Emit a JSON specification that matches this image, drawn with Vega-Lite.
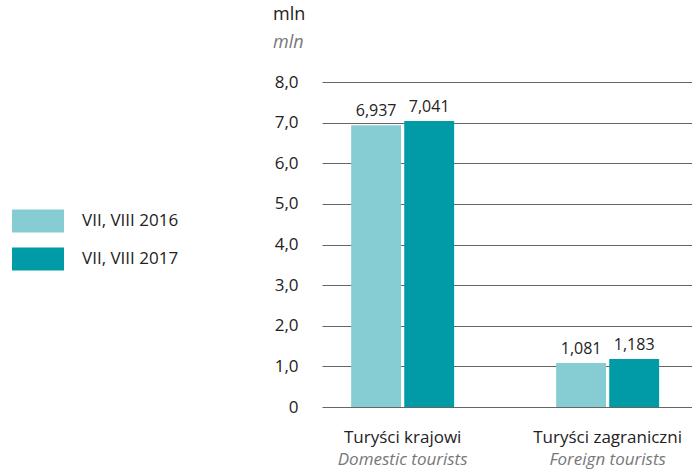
{
  "$schema": "https://vega.github.io/schema/vega-lite/v6.json",
  "width": 370,
  "height": 325,
  "autosize": {"type": "none"},
  "padding": {"left": 322, "top": 82, "right": 0, "bottom": 63},
  "config": {
    "locale": {"number": {"decimal": ",", "thousands": "\u00a0", "grouping": [3], "currency": ["", ""]}},
    "font": "Open Sans",
    "view": {"stroke": null}
  },
  "title": {
    "text": "mln",
    "subtitle": "mln",
    "anchor": "start",
    "frame": "group",
    "dx": -49,
    "offset": 21,
    "fontSize": 18,
    "fontWeight": "normal",
    "color": "#222222",
    "subtitleFontSize": 18,
    "subtitleFontStyle": "italic",
    "subtitleColor": "#777777",
    "subtitlePadding": 10
  },
  "data": {
    "values": [
      {"cat": "Turyści krajowi", "year": "VII, VIII 2016", "value": 6.937},
      {"cat": "Turyści krajowi", "year": "VII, VIII 2017", "value": 7.041},
      {"cat": "Turyści zagraniczni", "year": "VII, VIII 2016", "value": 1.081},
      {"cat": "Turyści zagraniczni", "year": "VII, VIII 2017", "value": 1.183}
    ]
  },
  "encoding": {
    "x": {
      "field": "cat",
      "type": "nominal",
      "sort": ["Turyści krajowi", "Turyści zagraniczni"],
      "scale": {"paddingInner": 0.4976, "paddingOuter": 0.1513, "align": 0.47},
      "axis": {
        "title": null,
        "domain": false,
        "ticks": false,
        "labelAngle": 0,
        "labelFontSize": 17,
        "labelColor": "#222222",
        "labelBaseline": "alphabetic",
        "labelPadding": 35
      }
    }
  },
  "layer": [
    {
      "mark": {"type": "bar"},
      "encoding": {
        "xOffset": {"field": "year", "type": "nominal", "scale": {"paddingInner": 0.06}},
        "y": {
          "field": "value",
          "type": "quantitative",
          "scale": {"domain": [0, 8], "nice": false},
          "axis": {
            "title": null,
            "values": [0, 1, 2, 3, 4, 5, 6, 7, 8],
            "format": ".1f",
            "labelExpr": "datum.value === 0 ? '0' : datum.label",
            "domain": false,
            "ticks": false,
            "gridColor": "#666666",
            "gridWidth": 1,
            "labelFontSize": 17,
            "labelColor": "#222222",
            "labelPadding": 24
          }
        },
        "color": {
          "field": "year",
          "type": "nominal",
          "scale": {"domain": ["VII, VIII 2016", "VII, VIII 2017"], "range": ["#86CDD3", "#009BA6"]},
          "legend": {
            "title": null,
            "orient": "none",
            "legendX": -310,
            "legendY": 113,
            "symbolType": "M-1,-0.442H1V0.442H-1Z",
            "symbolSize": 2704,
            "symbolStrokeWidth": 0,
            "symbolOpacity": 1,
            "labelFontSize": 17,
            "labelColor": "#222222",
            "labelOffset": 18,
            "rowPadding": -5
          }
        }
      }
    },
    {
      "mark": {"type": "text", "baseline": "alphabetic", "dy": -9, "fontSize": 16, "color": "#222222"},
      "encoding": {
        "xOffset": {"field": "year", "type": "nominal", "scale": {"paddingInner": 0.06}},
        "y": {"field": "value", "type": "quantitative"},
        "text": {"field": "value", "type": "quantitative", "format": ".3f"}
      }
    },
    {
      "mark": {"type": "rule", "color": "#222222", "strokeWidth": 1.5},
      "encoding": {"y": {"datum": 0}}
    },
    {
      "data": {
        "values": [
          {"cat": "Turyści krajowi", "en": "Domestic tourists"},
          {"cat": "Turyści zagraniczni", "en": "Foreign tourists"}
        ]
      },
      "mark": {"type": "text", "baseline": "alphabetic", "dy": 58, "fontSize": 17, "fontStyle": "italic", "color": "#777777"},
      "encoding": {
        "y": {"datum": 0},
        "text": {"field": "en", "type": "nominal"}
      }
    }
  ]
}
